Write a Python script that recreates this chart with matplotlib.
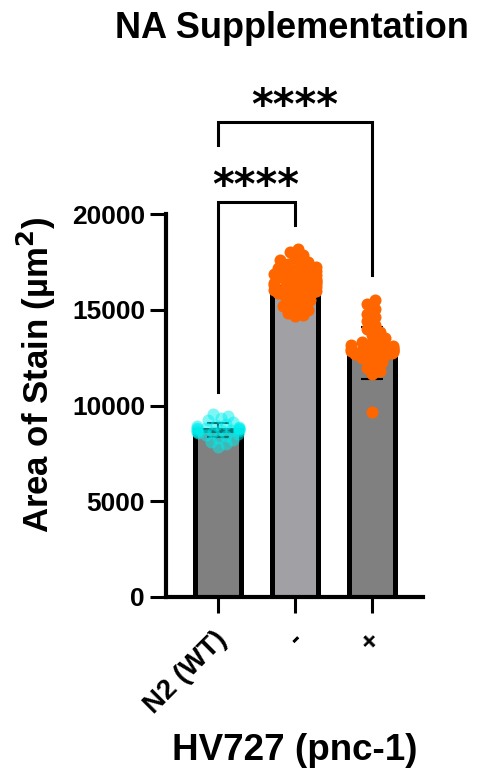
import numpy as np
import matplotlib.pyplot as plt
import matplotlib.transforms as mtransforms

plt.rcParams['font.family'] = ['Liberation Sans', 'DejaVu Sans']
plt.rcParams['font.weight'] = 'bold'

GROUPS = ["N2 (WT)", "-", "+"]
MEANS = [8720, 16190, 12740]
SDS = [350, 650, 1360]
BAR_COLORS = ["#808080", "#a0a0a5", "#808080"]

N2_WT = [8750, 8900, 9150, 8600, 8450, 8800, 9350, 9550, 8700, 8650,
         8550, 9000, 8300, 8100, 8950, 8850, 9250, 8400, 8750, 8500,
         7850, 9450, 8680, 8820, 8600, 8000, 9050, 8780, 8200, 8700]
PNC_MINUS = [18150, 18000, 17850, 17700, 17600, 17500, 17400, 17350, 17250, 17200,
             17100, 17050, 17000, 16950, 16900, 16850, 16800, 16750, 16700, 16650,
             16600, 16550, 16500, 16500, 16450, 16400, 16350, 16300, 16300, 16250,
             16200, 16150, 16100, 16050, 16000, 15950, 15900, 15850, 15800, 15700,
             15600, 15500, 15400, 15300, 15200, 15100, 15000, 14850, 14700, 14650]
PNC_PLUS = [15500, 15300, 15050, 14800, 14600, 14400, 14200, 14000, 13850, 13700,
            13550, 13400, 13300, 13200, 13150, 13100, 13050, 13000, 13000, 12950,
            12950, 12900, 12900, 12850, 12850, 12800, 12800, 12750, 12700, 12650,
            12600, 12500, 12400, 12250, 12100, 11950, 11800, 11650, 9660]
POINTS = [N2_WT, PNC_MINUS, PNC_PLUS]
POINT_COLORS = ["#00eeee", "#ff6600", "#ff6600"]
POINT_ALPHA = [0.5, 1.0, 1.0]

YTICKS = [0, 5000, 10000, 15000, 20000]

PX_PER_UNIT = 383 / 20000   # pixels per stain unit on the y axis
PX_PER_X = 77               # pixels between bar centres


def swarm(values, diam, max_off):
    # simple beeswarm in pixel space, points allowed to overlap a bit
    order = np.argsort(values)
    placed = []
    offsets = np.zeros(len(values))
    for i in order:
        y = values[i] * PX_PER_UNIT
        cands = [0.0]
        for k in range(1, 60):
            cands += [k * diam / 3.0, -k * diam / 3.0]
        for c in cands:
            if abs(c) > max_off:
                continue
            if all((c - px) ** 2 + (y - py) ** 2 >= diam ** 2 for px, py in placed):
                best = c
                break
        else:
            best = max_off * (1 if len(placed) % 2 else -1)
        placed.append((best, y))
        offsets[i] = best / PX_PER_X
    return offsets


def px2val(py):
    return (597 - py) / PX_PER_UNIT


fig = plt.figure(figsize=(4.78, 7.74), dpi=100)
ax = fig.add_axes([166 / 478, 1 - 597 / 774, (423 - 166) / 478, (597 - 214) / 774])

x = np.arange(len(GROUPS))
ax.bar(x, MEANS, width=0.59, color=BAR_COLORS, edgecolor="black", linewidth=3.6, zorder=2)
ax.errorbar(x, MEANS, yerr=SDS, fmt="none", ecolor="black", elinewidth=1.5,
            capsize=8, capthick=1.5, zorder=3)

for i, vals in enumerate(POINTS):
    vals = np.array(vals, dtype=float)
    off = swarm(vals, 7.5, 21)
    ax.scatter(x[i] + off, vals, s=75, color=POINT_COLORS[i], alpha=POINT_ALPHA[i],
               linewidths=0, zorder=4, clip_on=False)

ax.set_xlim(-52 / 77, 2 + 51 / 77)
ax.set_ylim(0, 20000)
ax.set_yticks(YTICKS)
ax.set_yticklabels([str(t) for t in YTICKS], fontsize=19, fontweight="bold")
ax.set_xticks(x)
ax.set_xticklabels([])
for sp in ["top", "right"]:
    ax.spines[sp].set_visible(False)
for sp in ["left", "bottom"]:
    ax.spines[sp].set_linewidth(3)
ax.tick_params(axis="both", width=2.2, length=11.5, pad=3.6)

# rotated group labels placed under the ticks
lab_tr = ax.get_xaxis_transform() + mtransforms.ScaledTranslation(
    5 / 100, -39 / 100, fig.dpi_scale_trans)
for xi, g in zip(x, GROUPS):
    ax.text(xi, 0, g, transform=lab_tr, rotation=45, rotation_mode="anchor",
            ha="right", va="center", fontsize=20, fontweight="bold")

fig.text(36 / 478, 1 - 375 / 774, "Area of Stain (µm$^\\mathbf{2}$)", rotation=90,
         fontsize=25, fontweight="bold", ha="center", va="center")
fig.text(294.5 / 478, 1 - 751 / 774, "HV727 (pnc-1)", fontsize=26.5, fontweight="bold",
         ha="center", va="center")
fig.text(292 / 478, 1 - 28 / 774, "NA Supplementation", fontsize=26, fontweight="bold",
         ha="center", va="center")

# significance brackets
lw = 2.2
ax.plot([0, 0, 1, 1], [px2val(392), px2val(202), px2val(202), px2val(225)],
        color="black", lw=lw, clip_on=False, solid_joinstyle="miter")
ax.text(0.49, px2val(199), "****", ha="center", va="baseline", fontsize=30,
        fontweight="bold", family="DejaVu Sans")
ax.plot([0, 0, 2, 2], [px2val(145), px2val(122), px2val(122), px2val(275)],
        color="black", lw=lw, clip_on=False, solid_joinstyle="miter")
ax.text(0.99, px2val(119), "****", ha="center", va="baseline", fontsize=30,
        fontweight="bold", family="DejaVu Sans")

fig.savefig("out.png", dpi=100)
